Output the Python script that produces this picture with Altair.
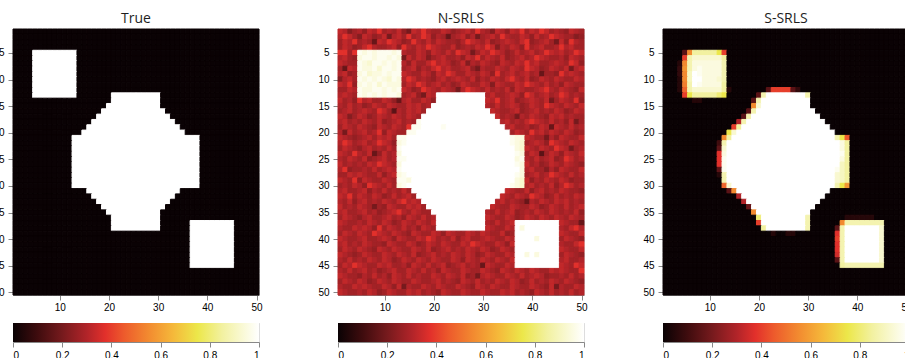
import altair as alt
import pandas as pd

# ---------------- data ----------------
# Each cell is one character; its value is ALPHABET.index(ch) / 40  (0 ... 1)
ALPHABET = "0123456789ABCDEFGHIJKLMNOPQRSTUVWXYZabcde"

TITLES = ["True", "N-SRLS", "S-SRLS"]
X_TICKS = [10, 20, 30, 40, 50]
Y_TICKS = [5, 10, 15, 20, 25, 30, 35, 40, 45, 50]
CBAR_TICKS = [0, 0.2, 0.4, 0.6, 0.8, 1]

# colormap ("hot"-like) stops, as seen on the colorbars
CMAP_STOPS = [0.0, 0.1, 0.2, 0.3, 0.375, 0.45, 0.55, 0.65, 0.75, 0.85, 1.0]
CMAP_COLORS = ["#0a0204", "#3f0c0e", "#761a1d", "#b12429", "#e2302b", "#ed5a2c",
               "#f28a30", "#f5b83a", "#ece74a", "#f2f1a0", "#ffffff"]

Z = "00000 00000 00000 00000 00000 00000 00000 00000 00000 00000"

TRUE_ROWS = [
    Z, Z, Z, Z,
    "0000e eeeee eee00 00000 00000 00000 00000 00000 00000 00000",
    "0000e eeeee eee00 00000 00000 00000 00000 00000 00000 00000",
    "0000e eeeee eee00 00000 00000 00000 00000 00000 00000 00000",
    "0000e eeeee eee00 00000 00000 00000 00000 00000 00000 00000",
    "0000e eeeee eee00 00000 00000 00000 00000 00000 00000 00000",
    "0000e eeeee eee00 00000 00000 00000 00000 00000 00000 00000",
    "0000e eeeee eee00 00000 00000 00000 00000 00000 00000 00000",
    "0000e eeeee eee00 00000 00000 00000 00000 00000 00000 00000",
    "0000e eeeee eee00 00000 eeeee eeeee 00000 00000 00000 00000",
    "00000 00000 00000 00000 eeeee eeeee 00000 00000 00000 00000",
    "00000 00000 00000 0000e eeeee eeeee 00000 00000 00000 00000",
    "00000 00000 00000 000ee eeeee eeeee e0000 00000 00000 00000",
    "00000 00000 00000 00eee eeeee eeeee ee000 00000 00000 00000",
    "00000 00000 00000 0eeee eeeee eeeee eee00 00000 00000 00000",
    "00000 00000 00000 eeeee eeeee eeeee eeee0 00000 00000 00000",
    "00000 00000 0000e eeeee eeeee eeeee eeeee 00000 00000 00000",
    "00000 00000 00eee eeeee eeeee eeeee eeeee eee00 00000 00000",
    "00000 00000 00eee eeeee eeeee eeeee eeeee eee00 00000 00000",
    "00000 00000 00eee eeeee eeeee eeeee eeeee eee00 00000 00000",
    "00000 00000 00eee eeeee eeeee eeeee eeeee eee00 00000 00000",
    "00000 00000 00eee eeeee eeeee eeeee eeeee eee00 00000 00000",
    "00000 00000 00eee eeeee eeeee eeeee eeeee eee00 00000 00000",
    "00000 00000 00eee eeeee eeeee eeeee eeeee eee00 00000 00000",
    "00000 00000 00eee eeeee eeeee eeeee eeeee eee00 00000 00000",
    "00000 00000 00eee eeeee eeeee eeeee eeeee eee00 00000 00000",
    "00000 00000 00eee eeeee eeeee eeeee eeeee eee00 00000 00000",
    "00000 00000 00000 eeeee eeeee eeeee eeee0 00000 00000 00000",
    "00000 00000 00000 0eeee eeeee eeeee eee00 00000 00000 00000",
    "00000 00000 00000 00eee eeeee eeeee ee000 00000 00000 00000",
    "00000 00000 00000 000ee eeeee eeeee e0000 00000 00000 00000",
    "00000 00000 00000 0000e eeeee eeeee 00000 00000 00000 00000",
    "00000 00000 00000 00000 eeeee eeeee 00000 00000 00000 00000",
    "00000 00000 00000 00000 eeeee eeeee 00000 0eeee eeeee 00000",
    "00000 00000 00000 00000 eeeee eeeee 00000 0eeee eeeee 00000",
    "00000 00000 00000 00000 00000 00000 00000 0eeee eeeee 00000",
    "00000 00000 00000 00000 00000 00000 00000 0eeee eeeee 00000",
    "00000 00000 00000 00000 00000 00000 00000 0eeee eeeee 00000",
    "00000 00000 00000 00000 00000 00000 00000 0eeee eeeee 00000",
    "00000 00000 00000 00000 00000 00000 00000 0eeee eeeee 00000",
    "00000 00000 00000 00000 00000 00000 00000 0eeee eeeee 00000",
    "00000 00000 00000 00000 00000 00000 00000 0eeee eeeee 00000",
    Z, Z, Z, Z, Z,
]

NSRLS_ROWS = [
    "DC9BC ADCFB CBDA8 DCFCB BDCAB CDBFC B9DCA DCFBD CFDBC BADCB",
    "CFDB9 DCABD 8CDBF BCFDA CB7BC DAC8B CDBFC BBDCA DBCFD CBB9A",
    "BDCFB CB7DC FDCAB FCBDB DCBBA CFDCB DABCD CBDFA BCDB8 DAFCB",
    "BDCAB DFCBB CDAFC BDCFD CBBDA BCBDC FD9CB DCAFB CDBBC FCDBB",
    "FFBFd cdcdd dcdCB BDCAD CBDBF DC8BD CFDCA BDBCD BCFDC DBCFD",
    "CDBAc ddcdd cdc8D BDC9B CDBBC ADCFB DCBDA BCDBC FDCBB CADCB",
    "DCBBd cbddc dcdCA DBBDF CDCAB D9CBD CBADC BDCFC DBBCD CBFDA",
    "B7DCd ccdbd dcdBC DACBD FCDBB CDA8C BBDCB DCBFD CABDC BD8CD",
    "CDABc dbccd cddDC BBDCA DCFDB BDCBD CAFBC DBCDB C7BBA FCDCB",
    "9CDBd cdcdc bdcCF DBCBA CDBCD CBDAC BDCBD FCBDA BDCBD CBBDC",
    "DCFAc dcdbd cccBD CFDBC DBCAB DCBBD C9DCB BDCFD CBDBC ADCBB",
    "BBDCd ccddc dcdDC ABFDC BDCB8 CFDCB DBCBD ADCBB CDFCB DCBAD",
    "CDCBd cdcdc ddcBC DA8DC eeeee eeeee CDBBC DCAFD BCDBC FDBCB",
    "DBCAF CDBBD CA7CD BBDCA eeeee eeeee DCFBC DABCD CBD8B DCBFA",
    "CBDBC ABDCB DCBBD CDBCe eeeee eeeee CBDBC DCABD CBFDC BDCBD",
    "BCDBC DCBFD B6CBD CDBee eeeee eeeee eDCBB CDABC DBCBD CABDC",
    "DC9BD CABDC BDCBD CBeee eeeee eeeee eeDBC B8CBD CBADC DBCBB",
    "CDBCB DCBDA BCDBC Bdeee eeeee eeeee eeeCD BCBDF DCBDB CAD8B",
    "BDCBD CBADC BDCBF ddeee edeee eeeee eeeeC DBBCA BDC7D CBDBC",
    "C8DBC DBCFA DCBBd deeee eeeee eeeee eeeee BDCBF CDBDC BDCAB",
    "DCBAB CDBDC DBdde eeeee eeeee eeeee eeeee dccDC BB8CA DCBBD",
    "CFDBC DBCFD CAcde eeeee eeeee eeeee eeeee dcbBC DCAFD CBDCB",
    "BDCBA CDBCB DBdee eeeee eeeee eeeee eeeee ecbDC BDCBF DC8BC",
    "DCBFC BD7AD BCcee eeeee eeeee eeeee eeeee edcBD C6BDC ADCBD",
    "CBDCB DABCD BCdde eeeee eeeee eeeee eeeee ecdCB DBCDA BFDBC",
    "DBCBC BDCFD CBcee eeeee eeeee eeeee eeeee edcDB CABDC BDCBA",
    "CFABB CBDBC DCdee eeeee eeeee eeeee eeeee eecCD BB9CA DCBBD",
    "BBDCD CBBDA CDcde eeeee eeeee eeeee eeeee edcBC DBCFD CBDBC",
    "DCBFA DCBBD CBddc eeeee eeeee eeeee eeeee ecbDA CBDCB DCABB",
    "BCBDC AFDCB DBcde eeeee eeeee eeeee eeeee dcbCD BCBDA CFDBC",
    "CDBBC DACBD BCBDB eeeee eeeee eeeee eeeeD CBBDA CDBCB DCBBA",
    "DCFBD CBDCA BDBCD Beeee eeeee eeeee eeeDC BDCBF DCABD BCBDC",
    "CBDAC DBCBD CBDFC DCeee eeeee eeeee eeCDB CBA7C BDCBD CDBCB",
    "DBCBD CB8BA DCBBD CDBee eeeee eeeee eDCBB DCBBD CABDC BDBCD",
    "CDBBC DBCAB CDFCB DCBBe eeeee eeeee CBDBC DABCB DCBDC BCBDA",
    "BDCBA CDBBC DBCAD CBDBC eeeee eeeee DCBBD CABDC BDCBD CBDCB",
    "DCBBC BDCBD CABDC BDCBD eeeee eeeee CBDBC Deeee eeeee DCBB7",
    "CBBDC DCAFB DCBDB CADCB eeeee eeeee DCBBD Cecee eeeee CBDFC",
    "BDCBD CBFDC BDCBA DCBBD CADCB BDCBD CBBDA Beeee eeeee DCBBD",
    "DCBBC DBBCD CADCB BDCFD BCBDA CDBBC DCBBD Ceeee ceeee BDCBA",
    "CDBCB DCBBA DCBBD CABDC BDCBB DCFDC BBDCA Deeee eeeee CBBDF",
    "BDCBD CBADC BDCBB DCBDA BCDBC BDCBD CABDC Beeee eeeee DCBBD",
    "DCBAB DCBBD CBDCB DABCD BCBDC BDCAB DCBBD Ceece ceeee BDCBA",
    "CBDBC BDCBD CABDC BDCBD CBBDC ADCBD CBDCB Deeee eeeee CDBBC",
    "BDCFD CBBDC DBBCA DCBDB CDABC DBCB7 DCBBD Ceeee eeeee DCBFD",
    "CBDBC DBCAB CDBBD CBDBC ADCBB DCBBD CBADC BDCBD CBBDC DCBBF",
    "DCBBA CBDBC ADCBD BCBBD CBDCB DAB8C DCBBD CBDBC DCABB CBDBC",
    "BDCBD CABDC BDCBB DCBBC DBCBA DCBDB CBDCB DCABD BCBDC BDCBA",
    "CBBDC DCBBD CAD8C BBDCB DCBBD CBADC BDCBB DCBBD CBAD8 CBBDC",
    "DCBBC BDCAB DCBBD CDBCB ADCBB DCBBD CBBDC DBCBA DCBDB CBDBC",
]

SSRLS_ROWS = [
    Z, Z, Z, Z,
    "00006 MYYYY YUG00 00000 00000 00000 00000 00000 00000 00000",
    "0000G Zbbbb bbY00 00000 00000 00000 00000 00000 00000 00000",
    "0002M Zcccc ccZ00 00000 00000 00000 00000 00000 00000 00000",
    "0003N Zcdcc ccZ00 00000 00000 00000 00000 00000 00000 00000",
    "0003M aedcc ccZ00 00000 00000 00000 00000 00000 00000 00000",
    "0002M aeecc cbZ00 00000 00000 00000 00000 00000 00000 00000",
    "0002L Zedcc ccY00 00000 00000 00000 00000 00000 00000 00000",
    "0002J Zbbbb bbY20 00000 06GGG G6300 00000 00000 00000 00000",
    "0000G UYYYY YWU00 00006 Zeeee eeeeZ 00000 00000 00000 00000",
    "00000 02200 00000 0006Z eeeee eeeee 00000 00000 00000 00000",
    "00000 00000 00000 000Mb eeeee eeeee 00000 00000 00000 00000",
    "00000 00000 00000 006Ze eeeee eeeee e0000 00000 00000 00000",
    "00000 00000 00000 06Zee eeeee eeeee ee000 00000 00000 00000",
    "00000 00000 00000 CZeee eeeee eeeee eee00 00000 00000 00000",
    "00000 00000 0000G Yeeee eeeee eeeee eeee0 00000 00000 00000",
    "00000 00000 000Ub eeeee eeeee eeeee eeeee 00000 00000 00000",
    "00000 00000 00MYe eeeee eeeee eeeee eeeee ZUI00 00000 00000",
    "00000 00000 04Zee eeeee eeeee eeeee eeeee ecY00 00000 00000",
    "00000 00000 06bee eeeee eeeee eeeee eeeee ecY00 00000 00000",
    "00000 00000 0Fcee eeeee eeeee eeeee eeeee edY00 00000 00000",
    "00000 00000 0Fdee eeeee eeeee eeeee eeeee ecY00 00000 00000",
    "00000 00000 0Fdee eeeee eeeee eeeee eeeee eaY00 00000 00000",
    "00000 00000 06dee eeeee eeeee eeeee eeeee daY00 00000 00000",
    "00000 00000 02Zee eeeee eeeee eeeee eeeee baY00 00000 00000",
    "00000 00000 00Zee eeeee eeeee eeeee eeeee baY00 00000 00000",
    "00000 00000 00Jbe eeeee eeeee eeeee eeeee ZUN00 00000 00000",
    "00000 00000 0006M eeeee eeeee eeeee eeee0 00000 00000 00000",
    "00000 00000 00000 Ceeee eeeee eeeee eee00 00000 00000 00000",
    "00000 00000 00000 0Ceee eeeee eeeee ee000 00000 00000 00000",
    "00000 00000 00000 007ee eeeee eeeee e0000 00000 00000 00000",
    "00000 00000 00000 000Me eeeee eeeee 00000 00000 00000 00000",
    "00000 00000 00000 0000W eeeee eeeeZ 00000 00222 22200 00000",
    "00000 00000 00000 0000G eeeee eeeeZ 00000 0MZZZ ZZZZZ 00000",
    "00000 00000 00000 00000 Yeeee eeeeZ 00000 6Zeee eeeeb 00000",
    "00000 00000 00000 00000 00200 22000 00000 FZeee eeeeb 00000",
    "00000 00000 00000 00000 00000 00000 00000 GZeee eeeeb 00000",
    "00000 00000 00000 00000 00000 00000 00000 FZeee eeeeb 00000",
    "00000 00000 00000 00000 00000 00000 00000 FZeee eeeeb 00000",
    "00000 00000 00000 00000 00000 00000 00000 EZeee eeeeb 00000",
    "00000 00000 00000 00000 00000 00000 00000 6Zeee eeeeb 00000",
    "00000 00000 00000 00000 00000 00000 00000 0YZZZ ZZZZZ 00000",
    Z, Z, Z, Z, Z,
]

PANELS = [TRUE_ROWS, NSRLS_ROWS, SSRLS_ROWS]

# ---------------- build tables ----------------
def grid_frame(rows):
    recs = []
    for r, s in enumerate(rows, start=1):
        s = s.replace(" ", "")
        for c, ch in enumerate(s[:50], start=1):
            recs.append({"row": r, "col": c, "v": ALPHABET.index(ch) / 40.0})
    return pd.DataFrame(recs)

FONT = "Open Sans"
PLOT_W, PLOT_H = 246, 266
CBAR_H = 19
PAGE_W, PAGE_H = 905, 358
PAD_L, PAD_T = 13, 29

cscale = alt.Scale(domain=CMAP_STOPS, range=CMAP_COLORS, interpolate="rgb")


def heat(df, title):
    return (
        alt.Chart(df)
        .transform_calculate(
            x0="datum.col - 0.5", x1="datum.col + 0.5",
            y0="datum.row - 0.5", y1="datum.row + 0.5",
        )
        .mark_rect(strokeWidth=1.0)
        .encode(
            x=alt.X("x0:Q", scale=alt.Scale(domain=[0.5, 50.5], nice=False, zero=False),
                    axis=alt.Axis(values=X_TICKS, title=None, labelPadding=2)),
            x2="x1:Q",
            y=alt.Y("y0:Q", scale=alt.Scale(domain=[0.5, 50.5], nice=False, zero=False, reverse=True),
                    axis=alt.Axis(values=Y_TICKS, title=None, labelPadding=4)),
            y2="y1:Q",
            color=alt.Color("v:Q", scale=cscale, legend=None),
            stroke=alt.Stroke("v:Q", scale=cscale, legend=None),
        )
        .properties(width=PLOT_W, height=PLOT_H,
                    title=alt.TitleParams(title, offset=3, font=FONT, fontSize=14,
                                          fontWeight="normal", color="#1e1e1e", anchor="middle"))
    )


def colorbar():
    grad = alt.Gradient(
        gradient="linear",
        stops=[alt.GradientStop(color=c, offset=o) for o, c in zip(CMAP_STOPS, CMAP_COLORS)],
        x1=0, x2=1, y1=0, y2=0,
    )
    cb = pd.DataFrame({"lo": [CBAR_TICKS[0]], "hi": [CBAR_TICKS[-1]]})
    return (
        alt.Chart(cb)
        .mark_rect(color=grad)
        .encode(
            x=alt.X("lo:Q", scale=alt.Scale(domain=[0, 1], nice=False, zero=False),
                    axis=alt.Axis(values=CBAR_TICKS, format="~g", title=None, labelPadding=3)),
            x2="hi:Q",
            y=alt.value(0),
            y2=alt.value(CBAR_H),
        )
        .properties(width=PLOT_W, height=CBAR_H)
    )


panels = [
    alt.vconcat(heat(grid_frame(rows), t), colorbar(), spacing=28, bounds="flush")
    for rows, t in zip(PANELS, TITLES)
]

chart = (
    alt.hconcat(*panels, spacing=54)
    .properties(
        autosize=alt.AutoSizeParams(type="none"),
        padding={"left": PAD_L, "top": PAD_T, "right": PAGE_W - PAD_L, "bottom": PAGE_H - PAD_T},
    )
    .configure_view(stroke="#9a9a9a", strokeWidth=1)
    .configure_axis(
        labelFont=FONT, labelFontSize=8, labelColor="#555555",
        domain=False, ticks=False, grid=False,
    )
    .configure(background="white")
)

chart.save("out.html", embed_options={"renderer": "svg", "actions": False})
